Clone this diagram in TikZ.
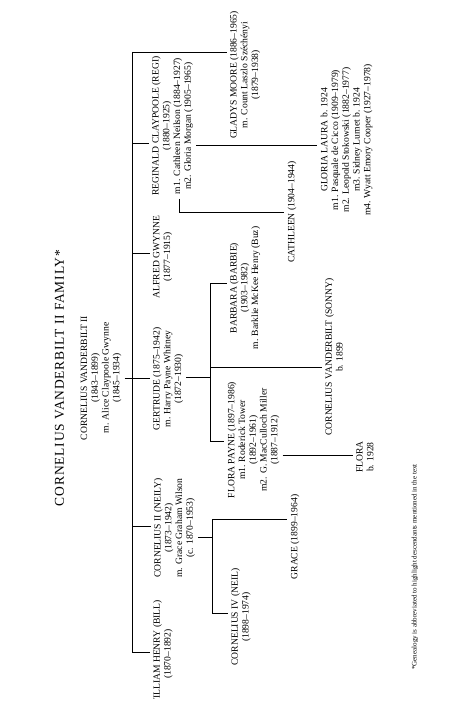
\documentclass[tikz,border=0pt]{standalone}
\usepackage{fontspec}
\setmainfont{Liberation Serif}
\newfontfamily\titlefont[LetterSpace=6]{Liberation Serif}

\begin{document}
\begin{tikzpicture}[x=1pt,y=-1pt,
    persona/.style={rotate=90,align=center,inner sep=3pt,font={\fontsize{9.6}{10.75}\selectfont}},
    linea/.style={line width=0.9pt}]
    \useasboundingbox (0,0) rectangle (474,711);
    \clip (0,0) rectangle (474,698); %corte de la hoja

    %Titulo y raiz
    \node[rotate=90,font={\titlefont\fontsize{13.5}{16}\selectfont}] (titulo) at (59.5,378) {CORNELIUS VANDERBILT II FAMILY*};
    \node[persona] (raiz) at (101,378) {CORNELIUS VANDERBILT II\\(1843--1899)\\m. Alice Claypoole Gwynne\\(1845--1934)};

    %Hijos
    \node[persona] (gla) at (245,75) {GLADYS MOORE (1886--1965)\\m. Count Laszlo Széchényi\\(1879--1938)};
    \node[persona] (reg) at (172.5,126) {REGINALD CLAYPOOLE (REGI)\\(1880--1925)\\m1. Cathleen Neilson (1884--1927)\\m2. Gloria Morgan (1905--1965)};
    \node[persona] (alf) at (162.5,257) {ALFRED GWYNNE\\(1877--1915)};
    \node[persona] (ger) at (168,379) {GERTRUDE (1875--1942)\\m. Harry Payne Whitney\\(1872--1930)};
    \node[persona] (nei) at (174.5,528) {CORNELIUS II (NEILY)\\(1873--1942)\\m. Grace Graham Wilson\\(c. 1870--1953)};
    \node[persona] (bil) at (163,654) {WILLIAM HENRY (BILL)\\(1870--1892)};

    %Nietos
    \node[persona] (cat) at (292,212) {CATHLEEN (1904--1944)};
    \node[persona] (glo) at (346.5,140) {GLORIA LAURA b. 1924\\m1. Pasquale de Cicco (1909--1979)\\m2. Leopold Stokowski (1882--1977)\\m3. Sidney Lumet b. 1924\\m4. Wyatt Emory Cooper (1927--1978)};
    \node[persona] (bar) at (245,288) {BARBARA (BARBIE)\\(1903--1982)\\m. Barklie McKee Henry (Buz)};
    \node[persona] (son) at (334,357) {CORNELIUS VANDERBILT (SONNY)\\b. 1899};
    \node[persona] (flp) at (253.5,440) {FLORA PAYNE (1897--1986)\\m1. Roderick Tower\\(1892--1961)\\m2. G. MacCulloch Miller\\(1887--1912)};
    \node[persona] (flo) at (365,457) {FLORA\\b. 1928};
    \node[persona] (gra) at (295,537) {GRACE (1899--1964)};
    \node[persona] (nel) at (241,617) {CORNELIUS IV (NEIL)\\(1898--1974)};

    %Nota
    \node[rotate=90,font={\fontsize{7}{8}\selectfont}] (nota) at (415,567) {*Genealogy is abbreviated to highlight descendants mentioned in the text};

    %Tronco de los hijos
    \coordinate (tgla) at (132,52);
    \coordinate (treg) at (132,143);
    \coordinate (talf) at (132,253);
    \coordinate (tnei) at (132,526);
    \coordinate (tbil) at (132,652);
    \draw[linea] (tgla) -- (tbil); %linea vertical
    \draw[linea] (raiz.south) -- (raiz.south -| ger.north); %raiz a Gertrude
    \draw[linea] (tgla) -- (tgla -| gla.north);
    \draw[linea] (treg) -- (treg -| reg.north);
    \draw[linea] (talf) -- (talf -| alf.north);
    \draw[linea] (tnei) -- (tnei -| nei.north);
    \draw[linea] (tbil) -- (tbil -| bil.north);

    %Hijas de Reginald
    \coordinate (m1) at (179,199);
    \coordinate (m2) at (0,145);
    \draw[linea] (m1) |- (cat.north); %Cathleen
    \draw[linea] (m2 -| reg.south) -- (m2 -| glo.north); %Gloria

    %Hijos de Gertrude
    \coordinate (jger) at (210,377);
    \coordinate (bbar) at (210,283);
    \coordinate (bson) at (210,367);
    \coordinate (bflp) at (210,441);
    \draw[linea] (jger -| ger.south) -- (jger);
    \draw[linea] (bbar) -- (bflp);
    \draw[linea] (bbar) -- (bbar -| bar.north);
    \draw[linea] (bson) -- (bson -| son.north);
    \draw[linea] (bflp) -- (bflp -| flp.north);

    %Hija de Flora Payne
    \coordinate (jflp) at (0,455);
    \draw[linea] (jflp -| flp.south) -- (jflp -| flo.north);

    %Hijos de Neily
    \coordinate (jnei) at (212,537);
    \coordinate (bgra) at (212,519);
    \coordinate (bnel) at (212,613);
    \draw[linea] (jnei -| nei.south) -- (jnei);
    \draw[linea] (bgra) -- (bnel);
    \draw[linea] (bgra) -- (bgra -| gra.north);
    \draw[linea] (bnel) -- (bnel -| nel.north);
\end{tikzpicture}
\end{document}
